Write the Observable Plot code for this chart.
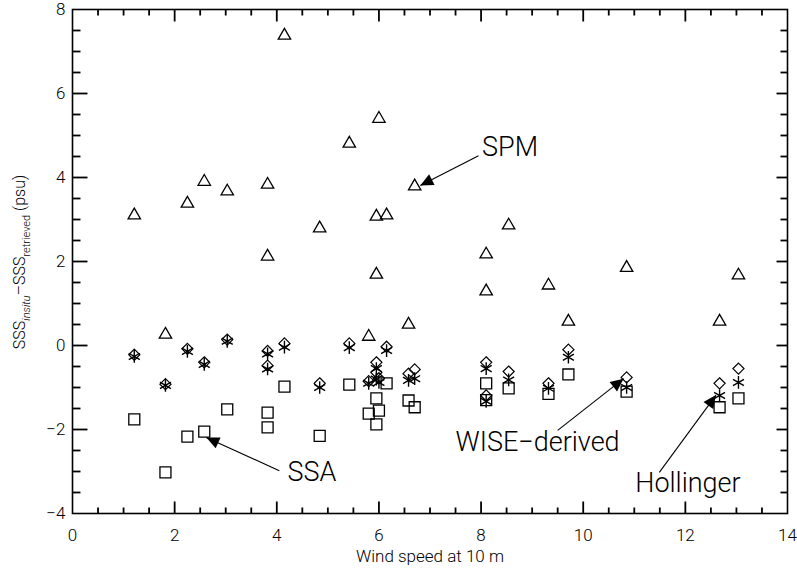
<!DOCTYPE html>
<html>
<head>
<meta charset="utf-8">
<script src="https://cdn.jsdelivr.net/npm/d3@7"></script>
<script src="https://cdn.jsdelivr.net/npm/@observablehq/plot@0.6"></script>
<style>
  html, body { margin: 0; padding: 0; background: #fff; }
  svg { display: block; }
</style>
</head>
<body>
<div id="chart"></div>
<script>
// ---- data ----
const wind = [1.21, 1.82, 2.25, 2.58, 3.03, 3.82, 3.82, 4.15, 4.84, 5.42, 5.80, 5.95, 5.95, 6.00, 6.15, 6.58, 6.70, 8.10, 8.10, 8.54, 9.32, 9.71, 10.85, 12.67, 13.04];
const spm = [3.10, 0.26, 3.38, 3.90, 3.67, 3.83, 2.12, 7.38, 2.79, 4.81, 0.21, 3.07, 1.69, 5.40, 3.10, 0.50, 3.79, 2.17, 1.29, 2.86, 1.43, 0.57, 1.85, 0.57, 1.67];
const ssa = [-1.76, -3.02, -2.17, -2.05, -1.52, -1.60, -1.95, -0.98, -2.15, -0.93, -1.62, -1.26, -1.88, -1.55, -0.90, -1.31, -1.47, -0.90, -1.30, -1.02, -1.15, -0.69, -1.10, -1.47, -1.26];
const wise = [-0.22, -0.92, -0.08, -0.40, 0.14, -0.13, -0.48, 0.05, -0.90, 0.05, -0.85, -0.40, -0.64, -0.78, -0.03, -0.67, -0.57, -0.40, -1.19, -0.62, -0.90, -0.10, -0.76, -0.90, -0.55];
const hollinger = [-0.26, -0.95, -0.14, -0.45, 0.10, -0.20, -0.56, -0.04, -1.00, -0.05, -0.90, -0.55, -0.80, -0.88, -0.12, -0.83, -0.79, -0.55, -1.33, -0.82, -1.02, -0.28, -1.00, -1.19, -0.88];

// axis ticks
const xTicks = [0, 2, 4, 6, 8, 10, 12, 14];
const yTicks = [-4, -2, 0, 2, 4, 6, 8];
const minorStep = 0.5;

// annotations
const labelText = ["SPM", "SSA", "WISE\u2212derived", "Hollinger"];
const labelX = [8.02, 4.21, 7.50, 11.02];
const labelY = [4.71, -3.02, -2.31, -3.29];
const arrowX1 = [7.95, 4.05, 9.50, 11.49];
const arrowY1 = [4.52, -2.98, -2.02, -3.02];
const arrowX2 = [6.81, 2.62, 10.79, 12.60];
const arrowY2 = [3.81, -2.19, -0.79, -1.18];

// ---- layout ----
const W = 797, H = 568;
const mL = 72, mR = 10, mT = 9, mB = 55;
const xDom = [0, 14], yDom = [-4, 8];
const kx = (W - mL - mR) / (xDom[1] - xDom[0]);
const ky = (H - mT - mB) / (yDom[1] - yDom[0]);

const obs = wind.map((w, i) => ({w, spm: spm[i], ssa: ssa[i], wise: wise[i], hol: hollinger[i]}));
const notes = labelText.map((txt, i) => {
  const dx = (arrowX2[i] - arrowX1[i]) * kx;
  const dy = -(arrowY2[i] - arrowY1[i]) * ky;
  return {txt, lx: labelX[i], ly: labelY[i], x1: arrowX1[i], y1: arrowY1[i], x2: arrowX2[i], y2: arrowY2[i],
          rot: Math.atan2(dx, -dy) * 180 / Math.PI};
});

const arrowHead = {
  draw(ctx) {
    const L = 13, hw = 6;
    ctx.moveTo(0, 0);
    ctx.lineTo(-hw, L);
    ctx.lineTo(hw, L);
    ctx.closePath();
  }
};

// inward tick marks on all four sides of the box
const isMaj = d => Math.abs(d % 2) < 1e-9;
const boxTicks = [];
for (let v = xDom[0] + minorStep; v < xDom[1] - 1e-9; v += minorStep) {
  const lb = (isMaj(v) ? 12 : 6) / ky;
  boxTicks.push({x1: v, x2: v, y1: yDom[0], y2: yDom[0] + lb});
  boxTicks.push({x1: v, x2: v, y1: yDom[1], y2: yDom[1] - lb});
}
for (let v = yDom[0] + minorStep; v < yDom[1] - 1e-9; v += minorStep) {
  const ll = (isMaj(v) ? 15 : 8) / kx;
  const lr = (isMaj(v) ? 11 : 7) / kx;
  boxTicks.push({x1: xDom[0], x2: xDom[0] + ll, y1: v, y2: v});
  boxTicks.push({x1: xDom[1], x2: xDom[1] - lr, y1: v, y2: v});
}

const fontFamily = "Roboto, 'Liberation Sans', sans-serif";

const svg = Plot.plot({
  width: W,
  height: H,
  marginLeft: mL,
  marginRight: mR,
  marginTop: mT,
  marginBottom: mB,
  style: {fontFamily, fontSize: "17px", fontWeight: 300, background: "#fff"},
  x: {domain: xDom, ticks: xTicks, tickSize: 0, tickPadding: 15, label: null},
  y: {domain: yDom, ticks: yTicks, tickSize: 0, tickPadding: 7, label: null},
  marks: [
    Plot.frame({stroke: "black", strokeWidth: 1.6}),
    Plot.link(boxTicks, {x1: "x1", y1: "y1", x2: "x2", y2: "y2", stroke: "black", strokeWidth: 1.8}),
    // data
    Plot.dot(obs, {x: "w", y: "ssa", symbol: "square", r: 6.2, stroke: "black", strokeWidth: 1.3, fill: "none"}),
    Plot.dot(obs, {x: "w", y: "spm", symbol: "triangle", r: 4.6, stroke: "black", strokeWidth: 1.3, fill: "none"}),
    Plot.dot(obs, {x: "w", y: "wise", symbol: "diamond2", r: 5.0, stroke: "black", strokeWidth: 1.2, fill: "none"}),
    Plot.dot(obs, {x: "w", y: "hol", symbol: "asterisk", r: 6.0, stroke: "black", strokeWidth: 1.4, fill: "none"}),
    // annotations
    Plot.link(notes, {x1: "x1", y1: "y1", x2: "x2", y2: "y2", stroke: "black", strokeWidth: 1.1}),
    Plot.dot(notes, {x: "x2", y: "y2", symbol: arrowHead, rotate: "rot", fill: "black", stroke: "none", r: 5}),
    Plot.text(notes, {x: "lx", y: "ly", text: "txt", textAnchor: "start", lineAnchor: "middle", fontSize: 27, fontWeight: 300, fill: "black"}),
    // x axis title
    Plot.text(["Wind speed at 10 m"], {frameAnchor: "bottom", text: d => d, dy: 43, lineAnchor: "middle", fontSize: 17, fontWeight: 300, fill: "black"})
  ]
});

// y axis title with subscripts
const yt = d3.select(svg).append("text")
  .attr("transform", "translate(25,262) rotate(-90)")
  .attr("text-anchor", "middle")
  .attr("font-family", fontFamily)
  .attr("font-size", 16)
  .attr("font-weight", 300)
  .attr("fill", "black");
yt.append("tspan").text("SSS");
yt.append("tspan").attr("dy", 5).attr("font-size", 11).attr("font-style", "italic").text("insitu");
yt.append("tspan").attr("dy", -5).text("\u2013SSS");
yt.append("tspan").attr("dy", 5).attr("font-size", 11).text("retrieved");
yt.append("tspan").attr("dy", -5).text(" (psu)");

document.getElementById("chart").appendChild(svg);
</script>
</body>
</html>
